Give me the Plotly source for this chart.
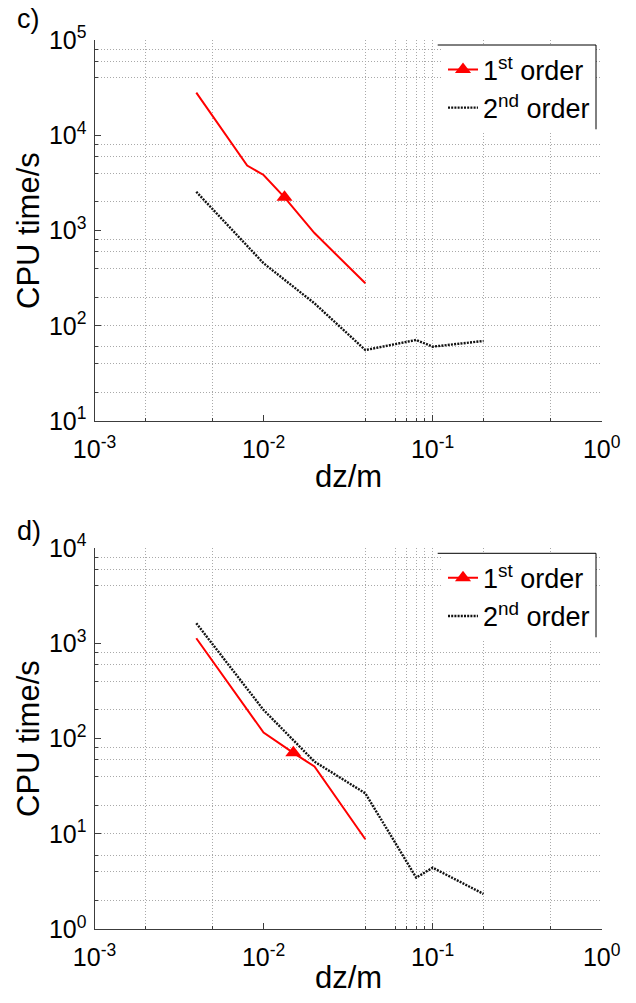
import plotly.graph_objects as go

# ---- data: CPU time (s) versus vertical cell size dz (m) ----
# panel c)
dz_c_first = [0.004, 0.008, 0.01, 0.0133, 0.02, 0.04]
cpu_c_first = [28000, 4800, 3830, 2230, 940, 279]
dz_c_second = [0.004, 0.01, 0.02, 0.04, 0.08, 0.1, 0.2]
cpu_c_second = [2550, 453, 172, 55.6, 70.9, 60.3, 69.2]

# panel d)
dz_d_first = [0.004, 0.01, 0.015, 0.02, 0.04]
cpu_d_first = [1130, 116, 71, 51, 8.8]
dz_d_second = [0.004, 0.01, 0.02, 0.04, 0.08, 0.1, 0.2]
cpu_d_second = [1626, 200, 57.4, 26.7, 3.48, 4.43, 2.35]

# point of each 1st-order curve that carries the triangle marker
mark_c = 3
mark_d = 2

series_names = ["1<sup>st</sup> order", "2<sup>nd</sup> order"]
panel_labels = ["c)", "d)"]
x_title = "dz/m"
y_title = "CPU time/s"

# ---- ticks and grid ----
x_ticks = [1e-3, 1e-2, 1e-1, 1e0]
x_tick_text = ["10<sup>-3</sup>", "10<sup>-2</sup>", "10<sup>-1</sup>", "10<sup>0</sup>"]
y_ticks_c = [1e1, 1e2, 1e3, 1e4, 1e5]
y_tick_text_c = ["10<sup>1</sup>", "10<sup>2</sup>", "10<sup>3</sup>", "10<sup>4</sup>", "10<sup>5</sup>"]
y_ticks_d = [1e0, 1e1, 1e2, 1e3, 1e4]
y_tick_text_d = ["10<sup>0</sup>", "10<sup>1</sup>", "10<sup>2</sup>", "10<sup>3</sup>", "10<sup>4</sup>"]

x_grid = [0.002, 0.005, 0.04, 0.06, 0.07, 0.08, 0.09, 0.1, 0.2, 0.5]
y_grid_c = [20, 40, 60, 100, 200, 400, 600, 800, 2000, 4000, 6000, 8000,
            40000, 60000, 80000]
y_grid_d = [2, 4, 6, 10, 20, 40, 60, 80, 200, 400, 600, 800,
            4000, 6000, 8000]

W, H = 636, 1003
FONT = "Liberation Sans, Arial, sans-serif"
RED = "#ff0000"
GRID = "#a9a9a9"
AXIS = "#3c3c3c"


def px_x(v):
    return v / W


def px_y(v):
    return 1 - v / H


x_dom = [px_x(94.5), px_x(601.7)]
dom_c = [px_y(421), px_y(40)]
dom_d = [px_y(929.3), px_y(548)]

fig = go.Figure()


def add_panel(xa, ya, legend, dz1, cpu1, mark, dz2, cpu2):
    # 1st order: solid red line
    fig.add_trace(go.Scatter(
        x=dz1, y=cpu1, mode="lines", xaxis=xa, yaxis=ya,
        line=dict(color=RED, width=2), showlegend=False, hoverinfo="x+y"))
    # triangle on the marked point
    fig.add_trace(go.Scatter(
        x=[dz1[mark]], y=[cpu1[mark]], mode="markers", xaxis=xa, yaxis=ya,
        marker=dict(symbol="triangle-up", size=14, color=RED),
        showlegend=False, hoverinfo="x+y"))
    # legend entry for the 1st order curve (line + triangle)
    fig.add_trace(go.Scatter(
        x=[None], y=[None], mode="lines+markers", xaxis=xa, yaxis=ya,
        line=dict(color=RED, width=2),
        marker=dict(symbol="triangle-up", size=14, color=RED),
        name=series_names[0], legend=legend, showlegend=True))
    # 2nd order: black dotted line
    fig.add_trace(go.Scatter(
        x=dz2, y=cpu2, mode="lines", xaxis=xa, yaxis=ya,
        line=dict(color="#111111", width=2.4, dash="2px,1.2px"),
        name=series_names[1], legend=legend, showlegend=True))


add_panel("x", "y", "legend", dz_c_first, cpu_c_first, mark_c,
          dz_c_second, cpu_c_second)
add_panel("x2", "y2", "legend2", dz_d_first, cpu_d_first, mark_d,
          dz_d_second, cpu_d_second)


def x_axis(anchor):
    return dict(
        type="log", range=[-3, 0], domain=x_dom, anchor=anchor,
        automargin=False,
        tickvals=x_ticks, ticktext=x_tick_text,
        ticks="inside", ticklen=6, tickcolor=AXIS, tickwidth=1,
        showgrid=False, zeroline=False,
        showline=True, linecolor=AXIS, linewidth=1,
        tickfont=dict(family=FONT, size=25, color="black"),
        ticklabelstandoff=6,
        minor=dict(tickvals=x_grid, ticks="inside", ticklen=3,
                   tickcolor=AXIS, showgrid=True, gridcolor=GRID,
                   gridwidth=1, griddash="1px,2px"),
    )


def y_axis(anchor, dom, rng, vals, text, grid):
    return dict(
        type="log", range=rng, domain=dom, anchor=anchor,
        automargin=False,
        tickvals=vals, ticktext=text,
        ticks="inside", ticklen=6, tickcolor=AXIS, tickwidth=1,
        showgrid=False, zeroline=False,
        showline=True, linecolor=AXIS, linewidth=1,
        tickfont=dict(family=FONT, size=25, color="black"),
        ticklabelstandoff=2,
        minor=dict(tickvals=grid, ticks="inside", ticklen=3,
                   tickcolor=AXIS, showgrid=True, gridcolor=GRID,
                   gridwidth=1, griddash="1px,2px"),
    )


legend_common = dict(
    font=dict(family=FONT, size=27, color="black"),
    bgcolor="white", borderwidth=0,
    xanchor="left", yanchor="top", itemwidth=30,
    tracegroupgap=0,
)

annotations = [
    dict(text=panel_labels[0], x=px_x(15), y=px_y(19), xanchor="left",
         yanchor="middle", font=dict(size=27)),
    dict(text=panel_labels[1], x=px_x(15), y=px_y(531), xanchor="left",
         yanchor="middle", font=dict(size=27)),
    dict(text=x_title, x=px_x(348), y=px_y(476), xanchor="center",
         yanchor="middle", font=dict(size=31)),
    dict(text=x_title, x=px_x(348), y=px_y(977), xanchor="center",
         yanchor="middle", font=dict(size=31)),
    dict(text=y_title, x=px_x(28), y=px_y(231), xanchor="center",
         yanchor="middle", textangle=-90, font=dict(size=31)),
    dict(text=y_title, x=px_x(28), y=px_y(739), xanchor="center",
         yanchor="middle", textangle=-90, font=dict(size=31)),
]
for a in annotations:
    a.update(xref="paper", yref="paper", showarrow=False)
    a["font"].update(family=FONT, color="black")


def legend_frame(top, bottom, left=437.7, right=596):
    line = dict(color="black", width=1)
    return [
        dict(type="line", xref="paper", yref="paper", x0=px_x(left),
             x1=px_x(right), y0=px_y(top), y1=px_y(top), line=line,
             layer="above"),
        dict(type="line", xref="paper", yref="paper", x0=px_x(right),
             x1=px_x(right), y0=px_y(top), y1=px_y(bottom), line=line,
             layer="above"),
    ]


fig.update_layout(
    width=W, height=H, autosize=False,
    margin=dict(l=0, r=0, t=0, b=0, pad=0, autoexpand=False),
    paper_bgcolor="white", plot_bgcolor="white",
    font=dict(family=FONT, color="black"),
    xaxis=x_axis("y"),
    yaxis=y_axis("x", dom_c, [1, 5], y_ticks_c, y_tick_text_c, y_grid_c),
    xaxis2=x_axis("y2"),
    yaxis2=y_axis("x2", dom_d, [0, 4], y_ticks_d, y_tick_text_d, y_grid_d),
    legend=dict(x=px_x(443), y=px_y(45.5), **legend_common),
    legend2=dict(x=px_x(443), y=px_y(553.8), **legend_common),
    annotations=annotations,
    shapes=legend_frame(45, 129.3) + legend_frame(553.3, 637.3),
    showlegend=True,
)

fig.write_html("out.html")
